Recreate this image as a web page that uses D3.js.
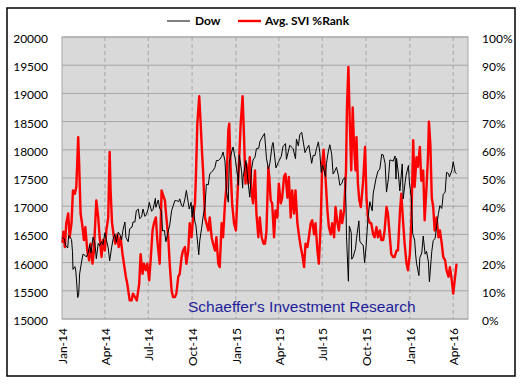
<!DOCTYPE html>
<html><head><meta charset="utf-8">
<script src="https://cdn.jsdelivr.net/npm/d3@7"></script>
<style>body{margin:0;background:#fff}</style></head>
<body><svg id="c" width="523" height="384"></svg>
<script>
// ---- DATA ----
const dowDates = [
"2014-01-02","2014-01-06","2014-01-09","2014-01-13","2014-01-15","2014-01-17","2014-01-21","2014-01-23","2014-01-24","2014-01-28","2014-01-30",
"2014-02-03","2014-02-05","2014-02-07","2014-02-11","2014-02-14","2014-02-18","2014-02-21","2014-02-25","2014-02-28",
"2014-03-03","2014-03-07","2014-03-11","2014-03-14","2014-03-18","2014-03-21","2014-03-25","2014-03-28",
"2014-04-01","2014-04-04","2014-04-08","2014-04-11","2014-04-15","2014-04-18","2014-04-22","2014-04-25","2014-04-29",
"2014-05-02","2014-05-06","2014-05-09","2014-05-13","2014-05-15","2014-05-20","2014-05-23","2014-05-28","2014-05-30",
"2014-06-03","2014-06-06","2014-06-10","2014-06-13","2014-06-17","2014-06-20","2014-06-24","2014-06-27",
"2014-07-01","2014-07-03","2014-07-08","2014-07-11","2014-07-16","2014-07-17","2014-07-22","2014-07-25","2014-07-29","2014-07-31",
"2014-08-04","2014-08-07","2014-08-12","2014-08-15","2014-08-19","2014-08-22","2014-08-26","2014-08-29",
"2014-09-03","2014-09-05","2014-09-09","2014-09-12","2014-09-16","2014-09-19","2014-09-23","2014-09-25","2014-09-29",
"2014-10-01","2014-10-03","2014-10-07","2014-10-09","2014-10-13","2014-10-15","2014-10-17","2014-10-21","2014-10-24","2014-10-28","2014-10-31",
"2014-11-04","2014-11-07","2014-11-11","2014-11-14","2014-11-18","2014-11-21","2014-11-25","2014-11-28",
"2014-12-02","2014-12-05","2014-12-09","2014-12-12","2014-12-16","2014-12-18","2014-12-23","2014-12-26","2014-12-31",
"2015-01-05","2015-01-06","2015-01-08","2015-01-13","2015-01-15","2015-01-16","2015-01-22","2015-01-27","2015-01-30",
"2015-02-03","2015-02-06","2015-02-10","2015-02-13","2015-02-18","2015-02-20","2015-02-25",
"2015-03-02","2015-03-06","2015-03-10","2015-03-13","2015-03-18","2015-03-20","2015-03-26","2015-03-31",
"2015-04-06","2015-04-10","2015-04-15","2015-04-17","2015-04-24","2015-04-29",
"2015-05-01","2015-05-06","2015-05-08","2015-05-12","2015-05-15","2015-05-19","2015-05-26","2015-05-29",
"2015-06-03","2015-06-09","2015-06-12","2015-06-16","2015-06-19","2015-06-23","2015-06-26","2015-06-29",
"2015-07-02","2015-07-08","2015-07-10","2015-07-14","2015-07-17","2015-07-21","2015-07-24","2015-07-28","2015-07-31",
"2015-08-04","2015-08-07","2015-08-11","2015-08-14","2015-08-18","2015-08-20","2015-08-21","2015-08-24","2015-08-25","2015-08-27","2015-08-31",
"2015-09-01","2015-09-04","2015-09-09","2015-09-11","2015-09-16","2015-09-18","2015-09-22","2015-09-25","2015-09-28",
"2015-10-01","2015-10-05","2015-10-09","2015-10-14","2015-10-16","2015-10-22","2015-10-26","2015-10-30",
"2015-11-03","2015-11-06","2015-11-10","2015-11-13","2015-11-17","2015-11-20","2015-11-24","2015-11-27",
"2015-12-01","2015-12-03","2015-12-04","2015-12-08","2015-12-11","2015-12-16","2015-12-18","2015-12-22","2015-12-24","2015-12-29","2015-12-31",
"2016-01-04","2016-01-07","2016-01-11","2016-01-13","2016-01-15","2016-01-20","2016-01-22","2016-01-26","2016-01-29",
"2016-02-02","2016-02-05","2016-02-09","2016-02-11","2016-02-16","2016-02-19","2016-02-23","2016-02-26",
"2016-03-01","2016-03-04","2016-03-08","2016-03-11","2016-03-15","2016-03-18","2016-03-22","2016-03-24","2016-03-29",
"2016-04-01","2016-04-05","2016-04-08"
];
const dowValues = [
16440,16420,16300,16260,16480,16460,16410,16200,15880,15930,15850,
15380,15440,15800,16010,16150,16130,16100,16180,16320,
16170,16450,16350,16070,16340,16300,16370,16320,
16530,16410,16260,16030,16260,16410,16510,16360,16540,
16510,16400,16580,16720,16450,16370,16600,16630,16720,
16720,16920,16950,16780,16810,16950,16820,16850,
16960,17070,16910,16940,17140,16980,17110,16960,16910,16560,
16570,16370,16560,16660,16920,17000,17100,17100,
17080,17130,17010,16990,17130,17280,17060,16950,17070,
16800,17010,16720,16660,16320,16140,16380,16610,16810,17000,17390,
17380,17570,17610,17630,17690,17810,17810,17830,
17880,17960,17800,17280,17070,17780,17960,18050,17820,
17500,17370,17910,17610,17320,17510,17810,17390,17160,
17670,17820,17870,18020,18030,18140,18220,
18290,17860,17660,17750,18080,18130,17680,17780,
17880,18060,18110,17830,18080,18040,
18020,17840,18190,18070,18270,18310,17950,18010,
18080,17760,17900,17900,18020,18140,17950,17600,
17730,17520,17760,17980,18090,17920,17570,17630,17690,
17550,17370,17400,17480,17510,17000,16460,15870,15670,16650,16530,
16060,16100,16250,16430,16740,16380,16330,16310,16000,
16270,16780,17080,16920,17220,17490,17620,17660,
17920,17910,17760,17250,17490,17820,17810,17800,
17890,17480,17850,17570,17270,17750,17130,17420,17550,17720,17430,
17150,16510,16400,16150,15990,15770,16090,16170,16470,
16150,16200,16010,15660,16200,16390,16430,16640,
16870,17010,16960,17210,17250,17600,17580,17520,17630,
17790,17600,17580
];
const sviDates = [
"2014-01-02","2014-01-04","2014-01-07","2014-01-10","2014-01-14","2014-01-17","2014-01-21","2014-01-24","2014-01-28","2014-01-31",
"2014-02-04","2014-02-06","2014-02-09","2014-02-12","2014-02-16","2014-02-19","2014-02-23","2014-02-27",
"2014-03-02","2014-03-06","2014-03-09","2014-03-14","2014-03-18","2014-03-21","2014-03-25","2014-03-28",
"2014-04-01","2014-04-04","2014-04-08","2014-04-11","2014-04-13","2014-04-16","2014-04-20","2014-04-23","2014-04-27","2014-04-30",
"2014-05-04","2014-05-08","2014-05-11","2014-05-15","2014-05-18","2014-05-23","2014-05-27","2014-05-30",
"2014-06-03","2014-06-07","2014-06-12","2014-06-15","2014-06-19","2014-06-22","2014-06-26","2014-06-29",
"2014-07-03","2014-07-06","2014-07-10","2014-07-13","2014-07-17","2014-07-20","2014-07-25","2014-07-29",
"2014-08-01","2014-08-05","2014-08-08","2014-08-12","2014-08-15","2014-08-19","2014-08-22","2014-08-26","2014-08-29",
"2014-09-02","2014-09-05","2014-09-09","2014-09-12","2014-09-16","2014-09-19","2014-09-23","2014-09-26","2014-09-30",
"2014-10-03","2014-10-07","2014-10-09","2014-10-12","2014-10-16","2014-10-19","2014-10-22","2014-10-24","2014-10-28","2014-10-31",
"2014-11-04","2014-11-07","2014-11-11","2014-11-14","2014-11-18","2014-11-21","2014-11-25","2014-11-28",
"2014-12-02","2014-12-05","2014-12-09","2014-12-12","2014-12-16","2014-12-18","2014-12-21","2014-12-24","2014-12-28",
"2015-01-01","2015-01-04","2015-01-08","2015-01-11","2015-01-15","2015-01-18","2015-01-21","2015-01-23","2015-01-27","2015-01-30",
"2015-02-03","2015-02-06","2015-02-10","2015-02-13","2015-02-17","2015-02-20","2015-02-24","2015-02-28",
"2015-03-03","2015-03-06","2015-03-10","2015-03-12","2015-03-15","2015-03-18","2015-03-22","2015-03-25","2015-03-29",
"2015-04-01","2015-04-05","2015-04-08","2015-04-12","2015-04-15","2015-04-19","2015-04-22","2015-04-26","2015-04-29",
"2015-05-03","2015-05-06","2015-05-10","2015-05-13","2015-05-17","2015-05-20","2015-05-24","2015-05-27","2015-05-31",
"2015-06-03","2015-06-07","2015-06-10","2015-06-14","2015-06-17","2015-06-21","2015-06-24","2015-06-28",
"2015-07-01","2015-07-04","2015-07-08","2015-07-12","2015-07-15","2015-07-19","2015-07-22","2015-07-26","2015-07-29",
"2015-08-02","2015-08-05","2015-08-09","2015-08-12","2015-08-16","2015-08-20","2015-08-22","2015-08-25","2015-08-28","2015-08-31",
"2015-09-03","2015-09-06","2015-09-09","2015-09-11","2015-09-14","2015-09-17","2015-09-20","2015-09-22","2015-09-25","2015-09-29",
"2015-10-02","2015-10-05","2015-10-09","2015-10-12","2015-10-16","2015-10-19","2015-10-23","2015-10-26","2015-10-30",
"2015-11-02","2015-11-06","2015-11-09","2015-11-13","2015-11-16","2015-11-20","2015-11-23","2015-11-27","2015-11-30",
"2015-12-04","2015-12-07","2015-12-11","2015-12-14","2015-12-18","2015-12-21","2015-12-25","2015-12-28",
"2016-01-01","2016-01-04","2016-01-08","2016-01-11","2016-01-15","2016-01-18","2016-01-22","2016-01-25","2016-01-29",
"2016-02-01","2016-02-05","2016-02-08","2016-02-10","2016-02-13","2016-02-16","2016-02-19","2016-02-22","2016-02-26",
"2016-03-01","2016-03-04","2016-03-08","2016-03-11","2016-03-15","2016-03-18","2016-03-22","2016-03-25","2016-03-29",
"2016-04-01","2016-04-05","2016-04-08"
];
const sviValues = [
27,31,25.5,34,37.4,29,34,45.6,44.4,46.8,
64.5,55,37.4,34,28,32.6,24.3,20.8,
26.7,19.6,24.3,42,36,29,22,28,
24.3,31.4,36,59.2,45.6,34,29,26.7,30,25.5,
29,23,19.6,15,12.5,6.6,6.6,9,
7.8,6.6,12.5,23,16,19.6,17.3,19.6,
13.7,20.8,31.4,34,36,28,19.6,45.6,
44,42,36,29,19.6,10,7.8,7.8,9,
15,16,22,24.3,25.5,19.6,24.3,34,29,
36,41,50.4,69.3,79,69.3,58.6,52.7,36,34,
31.4,36,29,26.7,24.3,29,19.6,18.4,
34,29,41,46.8,66.9,69.3,52.7,41,34,
31.4,43,57.4,69.3,79,64.5,48,55,48,57.4,
44.4,41,52.7,37.4,29,36,29,26.7,
26.7,31,53.9,50.4,42,41,29,38.5,36,
48,41,43,50.4,51.5,43,50.4,36,45.6,
37.4,45.6,34,30,25.5,23,18.4,26.7,25.5,
29,34,35,30,34,24.3,19.6,34,
55,60,50,38.5,32.6,30,34,29,39.7,
34,31.4,38.5,34,38.5,52.7,75,89.4,69.3,52.7,
75,61,52.7,64.5,48,42,39.7,43,49,61,
43,36,34,34,30,29,32.6,29,31.4,
28,28,31.4,39.7,37.4,29,23,22,22,
24.3,24.3,37.4,44.4,34,26.7,19.6,17.3,
23,34,63.4,46.8,57.4,54,61,49,52.7,
35,46.8,57.4,70,62,43,39.7,31.4,36,
29,31.4,26.7,22,20.8,17.3,15,18.4,13.7,
9,15,19.6
];
const xTickDates = ["2014-01-01","2014-04-01","2014-07-01","2014-10-01","2015-01-01","2015-04-01","2015-07-01","2015-10-01","2016-01-01","2016-04-01"];
const xTickLabels = ["Jan-14","Apr-14","Jul-14","Oct-14","Jan-15","Apr-15","Jul-15","Oct-15","Jan-16","Apr-16"];
const leftTicks = [15000,15500,16000,16500,17000,17500,18000,18500,19000,19500,20000];
const rightTicks = [0,10,20,30,40,50,60,70,80,90,100];
const seriesNames = ["Dow","Avg. SVI %Rank"];
const watermark = "Schaeffer's Investment Research";

if (dowDates.length !== dowValues.length) throw new Error("dow len " + dowDates.length + " vs " + dowValues.length);
if (sviDates.length !== sviValues.length) throw new Error("svi len " + sviDates.length + " vs " + sviValues.length);

// ---- CHART ----
const parse = d3.timeParse("%Y-%m-%d");
const svg = d3.select("#c");
const L = 62, R = 468, T = 37, B = 319;
const font = "Lato, 'Liberation Sans', sans-serif";

svg.append("rect").attr("x",7).attr("y",8).attr("width",508).attr("height",368)
  .attr("fill","#fff").attr("stroke","#000").attr("stroke-width",1.5);

const x = d3.scaleTime().domain([parse("2014-01-01"), parse("2016-05-02")]).range([L, R]);
const yL = d3.scaleLinear().domain([15000,20000]).range([B, T]);
const yR = d3.scaleLinear().domain([0,100]).range([B, T]);

svg.append("rect").attr("x",L).attr("y",T).attr("width",R-L).attr("height",B-T).attr("fill","#d9d9d9");

// horizontal grid
svg.append("g").selectAll("line").data(leftTicks).join("line")
  .attr("x1",L).attr("x2",R).attr("y1",d=>yL(d)).attr("y2",d=>yL(d))
  .attr("stroke","#a6a6a6").attr("stroke-width",1);
// vertical dashed grid
const xt = xTickDates.map(parse);
svg.append("g").selectAll("line").data(xt.slice(1)).join("line")
  .attr("x1",d=>x(d)).attr("x2",d=>x(d)).attr("y1",T).attr("y2",B)
  .attr("stroke","#a6a6a6").attr("stroke-width",1).attr("stroke-dasharray","4,3");

svg.append("rect").attr("x",L).attr("y",T).attr("width",R-L).attr("height",B-T)
  .attr("fill","none").attr("stroke","#a6a6a6").attr("stroke-width",1);

// watermark
svg.append("text").attr("x",188).attr("y",312).attr("text-anchor","start")
  .attr("font-family","'Liberation Sans', Arial, sans-serif").attr("font-size",15.5)
  .attr("fill","#1e1e9c").text(watermark);

// lines
const dow = dowDates.map((d,i)=>({d:parse(d), v:dowValues[i]}));
const svi = sviDates.map((d,i)=>({d:parse(d), v:sviValues[i]}));
svg.append("path").datum(svi).attr("fill","none").attr("stroke","#ff0000").attr("stroke-width",2.4)
  .attr("stroke-linejoin","round")
  .attr("d", d3.line().x(p=>x(p.d)).y(p=>yR(p.v)));
svg.append("path").datum(dow).attr("fill","none").attr("stroke","#000").attr("stroke-width",1)
  .attr("d", d3.line().x(p=>x(p.d)).y(p=>yL(p.v)));

// axes
const gl = svg.append("g").attr("transform",`translate(${L},0)`)
  .call(d3.axisLeft(yL).tickValues(leftTicks).tickSize(0).tickPadding(14).tickFormat(d3.format("d")));
const gr = svg.append("g").attr("transform",`translate(${R},0)`)
  .call(d3.axisRight(yR).tickValues(rightTicks).tickSize(0).tickPadding(14).tickFormat(d=>d+"%"));
const gx = svg.append("g").attr("transform",`translate(0,${B})`)
  .call(d3.axisBottom(x).tickValues(xt).tickSize(0).tickFormat((d,i)=>xTickLabels[i]));
gx.selectAll("text").attr("transform","rotate(-90)").attr("text-anchor","end")
  .attr("x",-9).attr("y",0).attr("dy","0.36em");
[gl,gr,gx].forEach(g=>{
  g.select(".domain").remove();
  g.selectAll("text").attr("font-family",font).attr("font-size",12).attr("fill","#000");
});
gl.selectAll("text").attr("dy","0.45em");
gr.selectAll("text").attr("dy","0.45em");

// legend
const lg = svg.append("g").attr("font-family",font).attr("font-size",12).attr("font-weight","bold");
lg.append("line").attr("x1",167).attr("x2",190).attr("y1",21).attr("y2",21).attr("stroke","#000").attr("stroke-width",1);
lg.append("text").attr("x",195).attr("y",25).text(seriesNames[0]);
lg.append("line").attr("x1",238).attr("x2",261).attr("y1",21).attr("y2",21).attr("stroke","#ff0000").attr("stroke-width",2.4);
lg.append("text").attr("x",265).attr("y",25).text(seriesNames[1]);
</script>
</body></html>
